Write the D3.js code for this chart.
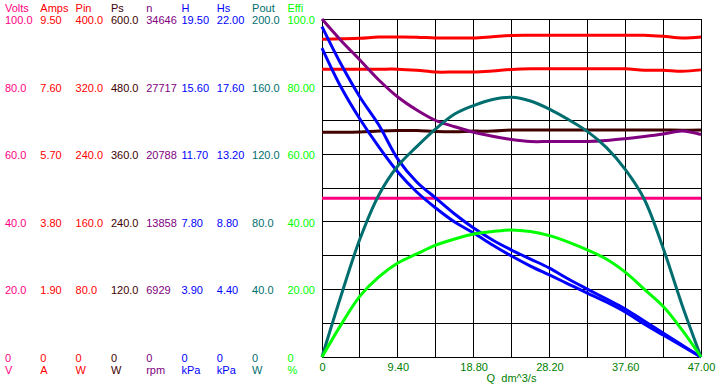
<!DOCTYPE html>
<html>
<head>
<meta charset="utf-8">
<script src="https://cdn.jsdelivr.net/npm/d3@7"></script>
<style>
    body { margin: 0; background: #fff; }
    svg { display: block; font-family: "Liberation Sans", Arial, sans-serif; font-size: 11px; }
</style>
</head>
<body>
<div id="vis-container"></div>
<script>
"use strict";

// Flow rate (x axis), dm^3/s
const qValues = [0, 2.35, 4.7, 7.05, 9.4, 11.75, 14.1, 16.45, 18.8, 21.15, 23.5,
    25.85, 28.2, 30.55, 32.9, 35.25, 37.6, 39.95, 42.3, 44.65, 47];

// Series, one value per flow rate
const volts = [47.0, 47.0, 47.0, 47.0, 47.0, 47.0, 47.0, 47.0, 47.0, 47.0, 47.0,
    47.0, 47.0, 47.0, 47.0, 47.0, 47.0, 47.0, 47.0, 47.0, 47.0];
const amps = [8.09, 8.09, 8.09, 8.09, 8.09, 8.06, 8.01, 8.01, 8.01, 8.04, 8.08,
    8.10, 8.10, 8.10, 8.10, 8.10, 8.10, 8.06, 8.06, 8.03, 8.07];
const pin = [376.0, 376.5, 377.2, 378.7, 378.7, 378.5, 377.5, 377.5, 377.5, 379.0, 380.5,
    380.7, 380.7, 380.7, 380.7, 380.7, 380.7, 380.7, 379.5, 377.5, 378.7];
const ps = [399.0, 399.0, 399.5, 401.0, 402.0, 402.0, 400.5, 400.0, 401.0, 401.0, 403.0,
    403.0, 403.0, 403.0, 403.0, 403.0, 403.0, 403.0, 403.0, 402.5, 403.0];
const speed = [34646, 32453, 30443, 28393, 26650, 25319, 24242, 23607, 23033, 22624, 22295,
    22090, 22090, 22090, 22090, 22191, 22377, 22602, 22858, 23166, 22807];
const head = [19.06, 16.90, 15.00, 13.38, 11.42, 10.10, 9.17, 8.25, 7.44, 6.75, 6.17,
    5.65, 5.13, 4.50, 3.92, 3.35, 2.77, 2.08, 1.38, 0.69, 0];
const headS = [20.11, 17.57, 15.49, 13.67, 12.04, 10.74, 9.70, 8.79, 8.07, 7.29, 6.57,
    5.92, 5.34, 4.75, 4.16, 3.58, 2.93, 2.15, 1.43, 0.72, 0];
const pout = [0, 36.1, 69.8, 95.9, 113.0, 124.5, 135.0, 143.8, 148.8, 152.4, 153.7,
    151.5, 146.7, 140.5, 133.5, 124.0, 111.0, 93.5, 64.5, 30.8, 0];
const effi = [0, 9.5, 18.0, 23.7, 27.8, 30.5, 33.1, 34.9, 36.4, 37.1, 37.6,
    37.1, 35.9, 34.0, 31.7, 29.0, 25.1, 20.1, 15.0, 8.0, 0];

// Left-hand columns
const columnNames = ["Volts", "Amps", "Pin", "Ps", "n", "H", "Hs", "Pout", "Effi"];
const columnUnits = ["V", "A", "W", "W", "rpm", "kPa", "kPa", "W", "%"];
const columnMax = [100, 9.5, 400, 600, 34646, 19.5, 22, 200, 100];
const columnTicks = [
    ["0", "20.0", "40.0", "60.0", "80.0", "100.0"],
    ["0", "1.90", "3.80", "5.70", "7.60", "9.50"],
    ["0", "80.0", "160.0", "240.0", "320.0", "400.0"],
    ["0", "120.0", "240.0", "360.0", "480.0", "600.0"],
    ["0", "6929", "13858", "20788", "27717", "34646"],
    ["0", "3.90", "7.80", "11.70", "15.60", "19.50"],
    ["0", "4.40", "8.80", "13.20", "17.60", "22.00"],
    ["0", "40.0", "80.0", "120.0", "160.0", "200.0"],
    ["0", "20.00", "40.00", "60.00", "80.00", "100.0"]
];
const columnData = [volts, amps, pin, ps, speed, head, headS, pout, effi];

// Bottom axis
const xTickValues = [0, 9.4, 18.8, 28.2, 37.6, 47];
const xTickLabels = ["0", "9.40", "18.80", "28.20", "37.60", "47.00"];
const xTitle = "Q  dm^3/s";

function mainIndex()
{
    const width = 719;
    const height = 385;

    const plot = { left: 322, right: 701, top: 19, bottom: 357 };

    const colors = ["#ff0080", "#ff0000", "#ff0000", "#400000", "#800080",
        "#0000ff", "#0000ff", "#006e6e", "#00ff00"];
    const axisColor = "#008000";

    const svg = d3.select("#vis-container")
        .append("svg")
        .attr("width", width)
        .attr("height", height);

    svg.append("rect")
        .attr("width", width)
        .attr("height", height)
        .attr("fill", "#fff");

    const x = d3.scaleLinear().domain([0, 47]).range([plot.left, plot.right]);
    const frac = d3.scaleLinear().domain([0, 1]).range([plot.bottom, plot.top]);

    // Grid: 10 x 10 cells
    const grid = svg.append("g")
        .attr("stroke", "#000")
        .attr("stroke-width", 1)
        .attr("shape-rendering", "crispEdges");

    grid.selectAll(".vline")
        .data(d3.range(11))
        .enter()
        .append("line")
        .attr("x1", i => x(i * 4.7))
        .attr("x2", i => x(i * 4.7))
        .attr("y1", plot.top)
        .attr("y2", plot.bottom);

    grid.selectAll(".hline")
        .data(d3.range(11))
        .enter()
        .append("line")
        .attr("x1", plot.left)
        .attr("x2", plot.right)
        .attr("y1", i => frac(i / 10))
        .attr("y2", i => frac(i / 10));

    // Columns of value labels on the left
    const colX = d3.scaleLinear().domain([0, 1]).range([5, 40.3]);

    columnNames.forEach((name, i) => {
        const y = d3.scaleLinear().domain([0, columnMax[i]]).range([plot.bottom, plot.top]);
        const tickVals = d3.range(6).map(k => columnMax[i] * k / 5);

        const axis = d3.axisRight(y)
            .tickValues(tickVals)
            .tickFormat((d, k) => columnTicks[i][k])
            .tickSize(0)
            .tickPadding(0);

        const g = svg.append("g")
            .attr("transform", `translate(${colX(i)},0)`)
            .call(axis);

        g.select(".domain").remove();
        g.selectAll("text")
            .attr("fill", colors[i])
            .attr("dy", "0.4em")
            .style("font-size", "11px")
            .style("font-family", "'Liberation Sans', Arial, sans-serif");

        svg.append("text")
            .attr("x", colX(i))
            .attr("y", 11.5)
            .attr("fill", colors[i])
            .text(name);

        svg.append("text")
            .attr("x", colX(i))
            .attr("y", 374)
            .attr("fill", colors[i])
            .text(columnUnits[i]);
    });

    // Curves
    const curves = svg.append("g")
        .attr("fill", "none")
        .attr("stroke-width", 3)
        .attr("stroke-linejoin", "round");

    columnData.forEach((values, i) => {
        const y = d3.scaleLinear().domain([0, columnMax[i]]).range([plot.bottom, plot.top]);
        const line = d3.line()
            .x((d, k) => x(qValues[k]))
            .y(d => y(d))
            .curve(d3.curveCatmullRom);

        curves.append("path")
            .datum(values)
            .attr("stroke", colors[i])
            .attr("d", line);
    });

    // Bottom axis
    const xAxis = d3.axisBottom(x)
        .tickValues(xTickValues)
        .tickFormat((d, k) => xTickLabels[k])
        .tickSize(0)
        .tickPadding(6);

    const xg = svg.append("g")
        .attr("transform", `translate(0,${plot.bottom})`)
        .call(xAxis);

    xg.select(".domain").remove();
    xg.selectAll("text")
        .attr("fill", axisColor)
        .style("font-size", "11px")
        .style("font-family", "'Liberation Sans', Arial, sans-serif");

    svg.append("text")
        .attr("x", (plot.left + plot.right) / 2)
        .attr("y", 381.5)
        .attr("text-anchor", "middle")
        .attr("fill", axisColor)
        .style("white-space", "pre")
        .text(xTitle);
}

document.addEventListener("DOMContentLoaded", mainIndex);
</script>
</body>
</html>
